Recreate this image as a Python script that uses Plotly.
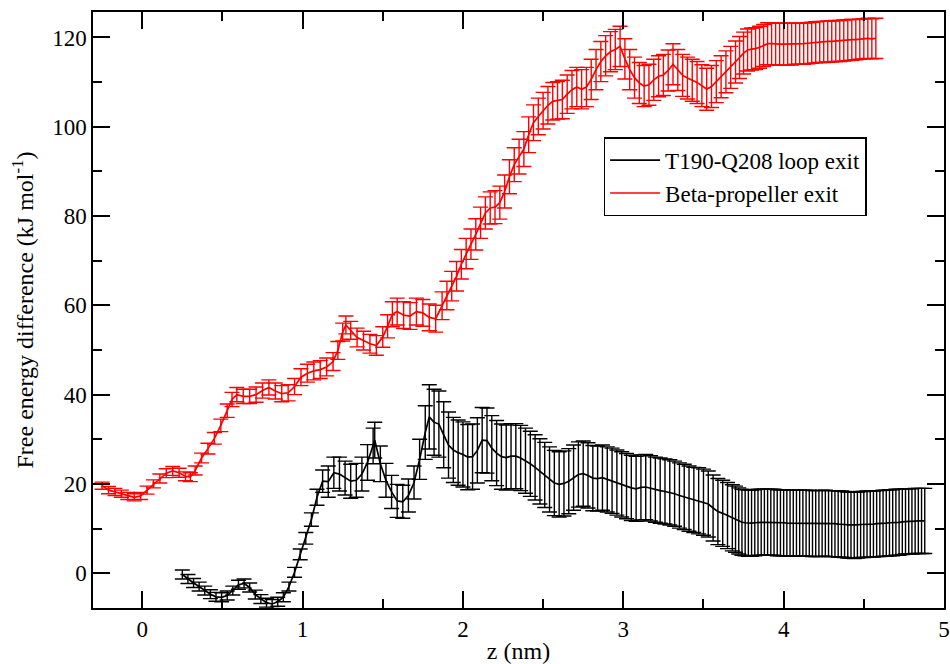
import plotly.graph_objects as go

# ---- T190-Q208 loop exit (black) ----
black_z = [0.25, 0.285, 0.32, 0.355, 0.39, 0.425, 0.46, 0.495, 0.53, 0.565, 0.60, 0.635, 0.67, 0.705, 0.74,
           0.775, 0.81, 0.845, 0.88, 0.915, 0.95, 0.985, 1.02, 1.055, 1.09,
           1.125, 1.16, 1.195, 1.23, 1.265, 1.30, 1.335, 1.37, 1.405, 1.44, 1.45, 1.485, 1.52, 1.555, 1.59,
           1.625, 1.66, 1.695, 1.73, 1.765, 1.79,
           1.82, 1.85, 1.88, 1.91, 1.94, 1.97, 2.00, 2.03, 2.06, 2.09, 2.12, 2.15, 2.18, 2.21, 2.24, 2.27,
           2.30, 2.33, 2.36, 2.39, 2.42, 2.45, 2.48, 2.51, 2.54, 2.57, 2.60, 2.63, 2.66, 2.69, 2.72, 2.75,
           2.78, 2.81, 2.84, 2.87, 2.90, 2.93, 2.96, 2.99, 3.02, 3.05, 3.08, 3.11, 3.14, 3.17, 3.20, 3.23,
           3.26, 3.29, 3.32, 3.35, 3.38, 3.41, 3.44, 3.47, 3.50, 3.53, 3.56, 3.59, 3.62, 3.65, 3.68,
           3.70, 3.72, 3.74, 3.76, 3.78, 3.80, 3.82, 3.84, 3.86, 3.88, 3.90, 3.92, 3.94, 3.96, 3.98, 4.00,
           4.02, 4.04, 4.06, 4.08, 4.10, 4.12, 4.14, 4.16, 4.18, 4.20, 4.22, 4.24, 4.26, 4.28, 4.30, 4.32,
           4.34, 4.36, 4.38, 4.40, 4.42, 4.44, 4.46, 4.48, 4.50, 4.52, 4.54, 4.56, 4.58, 4.60, 4.62, 4.64,
           4.66, 4.68, 4.70, 4.72, 4.74, 4.76, 4.78, 4.80, 4.82, 4.84, 4.86, 4.88]
black_dG = [-0.3, -1.3, -2.2, -3.0, -3.9, -4.7, -5.3, -5.4, -5.0, -3.9, -2.6, -2.3, -3.2, -4.8, -5.8,
            -6.6, -6.9, -6.4, -5.4, -3.0, 0.2, 4.2, 7.8, 12.0, 17.0,
            20.6, 20.5, 22.5, 22.2, 21.3, 20.6, 20.8, 22.2, 24.8, 28.5, 29.8, 24.5, 20.8, 18.2, 16.2,
            16.0, 17.4, 20.3, 25.5, 31.5, 35.0,
            33.8, 33.4, 31.0, 28.7, 27.6, 27.0, 26.6, 26.0, 26.1, 27.5, 29.8, 29.7, 28.0, 26.9, 26.1, 25.9,
            26.2, 26.2, 25.8, 25.2, 24.5, 23.7, 22.8, 22.0, 21.0, 20.2, 19.9, 20.1, 20.6, 21.4, 22.1, 22.3,
            21.9, 21.3, 21.2, 21.4, 21.0, 20.7, 20.3, 19.9, 19.5, 19.1, 18.9, 19.2, 19.3, 19.0, 18.7, 18.5,
            18.3, 18.1, 17.8, 17.4, 17.1, 16.7, 16.4, 16.2, 15.9, 15.5, 14.6, 13.8, 13.4, 12.9, 12.4,
            12.1, 11.7, 11.4, 11.3, 11.2, 11.2, 11.3, 11.4, 11.4, 11.4, 11.4, 11.4, 11.4, 11.3, 11.3, 11.3,
            11.2, 11.2, 11.2, 11.2, 11.2, 11.2, 11.2, 11.2, 11.1, 11.1, 11.1, 11.2, 11.2, 11.1, 11.1, 11.1,
            11.0, 11.0, 10.9, 10.8, 10.8, 10.7, 10.8, 10.9, 10.9, 11.0, 11.0, 11.0, 11.1, 11.1, 11.2, 11.2,
            11.3, 11.3, 11.4, 11.4, 11.5, 11.6, 11.6, 11.6, 11.7, 11.7, 11.7, 11.7]
black_err = [1.0, 1.0, 1.0, 1.0, 1.0, 1.0, 1.0, 1.0, 1.0, 1.0, 1.0, 1.0, 1.0, 1.0, 1.0,
             1.0, 1.0, 1.0, 1.0, 1.0, 1.1, 1.2, 1.3, 1.5, 1.8,
             2.5, 3.5, 3.5, 3.8, 3.8, 3.8, 3.8, 3.8, 4.0, 4.0, 4.0, 4.0, 3.8, 3.7, 3.7,
             3.7, 3.7, 3.7, 4.5, 6.0, 7.2,
             7.4, 7.4, 7.4, 7.4, 7.3, 7.3, 7.3, 7.3, 7.3, 7.3, 7.3, 7.3, 7.3, 7.3, 7.3, 7.3,
             7.3, 7.3, 7.3, 7.3, 7.3, 7.3, 7.3, 7.3, 7.3, 7.3, 7.3, 7.3, 7.3, 7.3, 7.3, 7.3,
             7.3, 7.3, 7.3, 7.3, 7.3, 7.3, 7.3, 7.3, 7.3, 7.3, 7.3, 7.3, 7.3, 7.3, 7.3, 7.3,
             7.3, 7.3, 7.3, 7.3, 7.3, 7.3, 7.3, 7.4, 7.4, 7.4, 7.4, 7.4, 7.4, 7.4, 7.4,
             7.4, 7.4, 7.4, 7.4, 7.4, 7.4, 7.4, 7.4, 7.4, 7.4, 7.4, 7.4, 7.4, 7.4, 7.4, 7.4,
             7.4, 7.4, 7.4, 7.4, 7.4, 7.4, 7.4, 7.4, 7.4, 7.4, 7.4, 7.4, 7.4, 7.4, 7.4, 7.4,
             7.4, 7.4, 7.4, 7.4, 7.4, 7.4, 7.4, 7.4, 7.4, 7.4, 7.4, 7.4, 7.4, 7.4, 7.4, 7.4,
             7.4, 7.4, 7.4, 7.4, 7.3, 7.3, 7.3, 7.3, 7.3, 7.3, 7.3, 7.3]

# ---- Beta-propeller exit (red) ----
red_z = [-0.25, -0.21, -0.17, -0.13, -0.09, -0.05, -0.01, 0.03, 0.07, 0.11, 0.15, 0.19, 0.23, 0.27,
         0.30, 0.33, 0.37, 0.41, 0.45, 0.49, 0.53, 0.56, 0.59,
         0.63, 0.67, 0.71, 0.75, 0.79, 0.83, 0.87, 0.91, 0.95, 0.99, 1.03, 1.07, 1.11, 1.15, 1.19,
         1.22, 1.25, 1.27, 1.30, 1.34, 1.38, 1.42, 1.46, 1.50, 1.53, 1.56, 1.59, 1.63, 1.67, 1.71,
         1.75, 1.79, 1.83, 1.87,
         1.90, 1.93, 1.96, 1.99, 2.02, 2.05, 2.08, 2.11, 2.14, 2.17, 2.20, 2.23, 2.26, 2.29, 2.32,
         2.35, 2.38, 2.41, 2.44, 2.47, 2.50, 2.53, 2.56, 2.59, 2.62, 2.65, 2.68, 2.71, 2.74, 2.77,
         2.80, 2.83, 2.86, 2.89, 2.92, 2.95, 2.98, 3.01, 3.04, 3.07, 3.10, 3.13, 3.16, 3.19, 3.22,
         3.25, 3.28, 3.31, 3.34, 3.37, 3.40, 3.43, 3.46, 3.49, 3.52, 3.55, 3.58, 3.61, 3.64, 3.67, 3.70,
         3.725, 3.75, 3.775, 3.80, 3.825, 3.85, 3.875, 3.90, 3.925, 3.95, 3.975, 4.00, 4.025, 4.05,
         4.075, 4.10, 4.125, 4.15, 4.175, 4.20, 4.225, 4.25, 4.275, 4.30, 4.325, 4.35, 4.375, 4.40,
         4.425, 4.45, 4.475, 4.50, 4.525, 4.55, 4.575]
red_dG = [19.6, 18.6, 18.2, 17.8, 17.3, 17.0, 17.3, 18.6, 20.0, 21.2, 22.4, 22.9, 22.5, 21.7,
          21.5, 23.0, 25.8, 27.9, 30.2, 33.1, 36.4, 38.9, 40.0,
          39.6, 39.6, 40.0, 40.9, 41.6, 40.8, 40.2, 40.4, 41.8, 43.9, 44.8, 45.3, 45.6, 46.2, 47.4,
          49.9, 54.0, 55.6, 54.4, 52.8, 52.1, 51.4, 51.0, 52.9, 55.3, 58.0, 58.6, 57.8, 57.6, 58.6,
          58.3, 57.3, 57.0, 59.9,
          62.2, 64.3, 66.5, 69.2, 71.6, 73.7, 75.9, 78.5, 80.7, 81.8, 82.0, 83.0, 85.5, 88.8, 91.5,
          93.3, 95.0, 98.2, 100.9, 102.3, 103.6, 104.8, 105.7, 105.9, 106.1, 107.3, 108.3, 108.9, 108.4, 108.9,
          110.6, 112.8, 114.6, 115.9, 116.8, 117.3, 118.0, 115.2, 112.8, 111.0, 109.8, 109.1, 109.4, 110.5, 111.3,
          111.6, 112.6, 114.0, 112.7, 111.5, 110.9, 110.4, 109.9, 109.2, 108.4, 109.0, 110.1, 111.2, 112.3, 113.3, 114.5,
          115.5, 116.5, 117.2, 117.4, 117.5, 117.8, 118.2, 118.6, 118.6, 118.5, 118.5, 118.5, 118.5, 118.5,
          118.6, 118.6, 118.6, 118.7, 118.8, 118.9, 119.0, 119.0, 119.1, 119.1, 119.2, 119.2, 119.3, 119.4,
          119.5, 119.5, 119.6, 119.7, 119.8, 119.7, 119.8]
red_err = [0.8, 0.8, 0.8, 0.8, 0.8, 0.8, 0.8, 0.9, 0.9, 1.0, 1.0, 1.0, 1.0, 1.0,
           1.0, 1.0, 1.1, 1.2, 1.3, 1.4, 1.5, 1.6, 1.6,
           1.6, 1.6, 1.7, 1.7, 1.7, 1.8, 1.8, 1.8, 1.8, 1.9, 2.0, 2.0, 2.0, 2.0, 2.0,
           2.0, 2.0, 2.0, 2.0, 2.1, 2.1, 2.1, 2.2, 2.3, 2.6, 2.8, 3.0, 3.0, 3.0, 3.0,
           3.0, 3.0, 3.0, 3.1,
           3.2, 3.3, 3.3, 3.3, 3.4, 3.4, 3.5, 3.5, 3.6, 3.6, 3.7, 3.7, 3.7, 3.8, 3.8,
           3.9, 3.9, 4.0, 4.0, 4.1, 4.1, 4.2, 4.2, 4.2, 4.3, 4.3, 4.3, 4.4, 4.4, 4.4,
           4.5, 4.5, 4.5, 4.5, 4.5, 4.5, 4.5, 4.5, 4.5, 4.6, 4.6, 4.6, 4.6, 4.6, 4.6,
           4.6, 4.6, 4.6, 4.6, 4.7, 4.7, 4.7, 4.7, 4.7, 4.7, 4.7, 4.7, 4.7, 4.7, 4.7, 4.7,
           4.7, 4.7, 4.7, 4.7, 4.7, 4.7, 4.7, 4.7, 4.7, 4.7, 4.7, 4.7, 4.7, 4.7,
           4.6, 4.6, 4.6, 4.6, 4.6, 4.6, 4.6, 4.6, 4.6, 4.6, 4.6, 4.6, 4.6, 4.6,
           4.6, 4.5, 4.5, 4.5, 4.5, 4.5, 4.5]

FONT = "Liberation Serif"

fig = go.Figure()
fig.add_trace(go.Scatter(
    x=black_z, y=black_dG, mode="lines", name="T190-Q208 loop exit",
    line=dict(color="black", width=1.7),
    error_y=dict(type="data", array=black_err, visible=True, color="black", thickness=1.4, width=7.5),
))
fig.add_trace(go.Scatter(
    x=red_z, y=red_dG, mode="lines", name="Beta-propeller exit",
    line=dict(color="red", width=1.7),
    error_y=dict(type="data", array=red_err, visible=True, color="red", thickness=1.4, width=7.5),
))

axis_common = dict(
    showline=True, linecolor="black", linewidth=1.5, mirror="allticks",
    ticks="inside", ticklen=17, tickwidth=1.5, tickcolor="black",
    showgrid=False, zeroline=False,
    tickfont=dict(family=FONT, size=23, color="black"),
    ticklabeloverflow="allow",
)

fig.update_xaxes(
    range=[-0.307, 5.0], dtick=1, tick0=0,
    minor=dict(dtick=0.5, tick0=0, ticks="inside", ticklen=9, tickwidth=1.5, tickcolor="black", showgrid=False),
    title=dict(text="z (nm)", font=dict(family=FONT, size=24, color="black"), standoff=4),
    **axis_common,
)
fig.update_yaxes(
    range=[-7.8, 125.7], dtick=20, tick0=0,
    minor=dict(dtick=10, tick0=0, ticks="inside", ticklen=9, tickwidth=1.5, tickcolor="black", showgrid=False),
    title=dict(text="Free energy difference (kJ mol<sup>-1</sup>)",
               font=dict(family=FONT, size=24, color="black"), standoff=12),
    **axis_common,
)

fig.update_layout(
    width=950, height=664,
    margin=dict(l=93, r=6, t=12, b=56, autoexpand=False),
    paper_bgcolor="white", plot_bgcolor="white",
    font=dict(family=FONT, size=23, color="black"),
    legend=dict(
        x=0.600, y=0.790, xanchor="left", yanchor="top",
        bgcolor="white", bordercolor="black", borderwidth=1.5,
        font=dict(family=FONT, size=23, color="black"),
        tracegroupgap=0, itemwidth=50,
    ),
    showlegend=True,
)

# remove the browser's default 8px body margin so the 950x664 figure fills the window
fig.write_html(
    "out.html",
    config={"displayModeBar": False},
    post_script="document.body.style.margin='0';document.documentElement.style.overflow='hidden';",
)
